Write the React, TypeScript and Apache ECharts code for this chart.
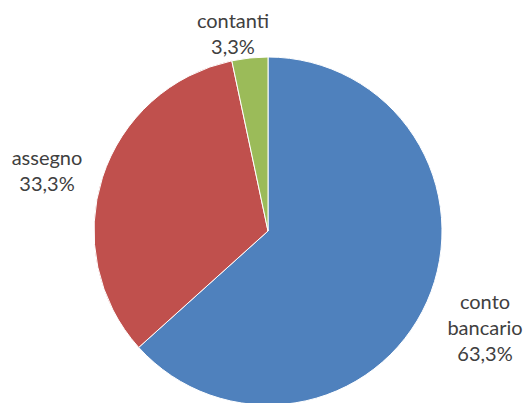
import React, { useEffect, useRef } from "react";
import * as echarts from "echarts";

const categories = ["conto bancario", "assegno", "contanti"];
const values = [19, 10, 1];
const labelTexts = ["conto\nbancario\n63,3%", "assegno\n33,3%", "contanti\n3,3%"];
const colors = ["#4F81BD", "#C0504D", "#9BBB59"];

const labelPos = [
  { x: 485, y: 327 },
  { x: 47, y: 170 },
  { x: 233, y: 33 },
];

export default function App() {
  const ref = useRef<HTMLDivElement>(null);
  useEffect(() => {
    const chart = echarts.init(ref.current!, null, { renderer: "svg" });
    chart.setOption({
      animation: false,
      backgroundColor: "#FFFFFF",
      series: [
        {
          type: "pie",
          center: [268, 231],
          radius: 174,
          startAngle: 90,
          clockwise: true,
          data: categories.map((c, i) => ({
            name: c,
            value: values[i],
            itemStyle: { color: colors[i] },
            label: { formatter: labelTexts[i] },
          })),
          itemStyle: { borderColor: "#FFFFFF", borderWidth: 1 },
          label: {
            show: true,
            position: "outside",
            color: "#404040",
            fontFamily: "Lato, 'Open Sans', sans-serif",
            fontSize: 20,
            lineHeight: 26,
            align: "center",
            overflow: "none",
            width: 200,
          },
          labelLine: { show: false },
          labelLayout: (params: any) => ({
            x: labelPos[params.dataIndex].x,
            y: labelPos[params.dataIndex].y,
            align: "center",
            verticalAlign: "middle",
          }),
          emphasis: { disabled: true },
        },
      ],
    });
    return () => chart.dispose();
  }, []);
  return (
    <div
      ref={ref}
      style={{ position: "fixed", left: 0, top: 0, width: 526, height: 403 }}
    />
  );
}
